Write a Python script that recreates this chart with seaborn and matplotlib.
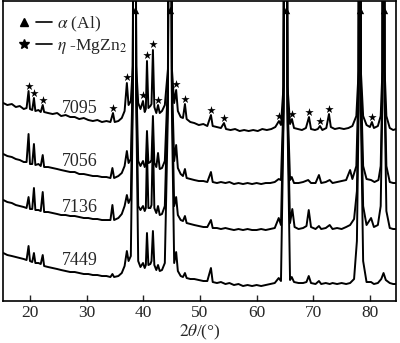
import matplotlib
matplotlib.use("Agg")
import numpy as np
import pandas as pd
import matplotlib.pyplot as plt
import seaborn as sns
from matplotlib.lines import Line2D
from matplotlib.legend_handler import HandlerTuple

# XRD patterns: (2theta, intensity in a.u., stacked)
pat_7095 = [
    (15.3, 198), (16.0, 196), (16.8, 197), (17.5, 194), (18.2, 195), (18.9, 192),
    (19.4, 193), (19.75, 210), (20.0, 192), (20.4, 191), (20.7, 203), (20.95, 190),
    (21.5, 191), (21.9, 189), (22.25, 196), (22.5, 189), (23.2, 188), (24.0, 187),
    (24.8, 188), (25.5, 185), (26.3, 186), (27.1, 184), (27.9, 184), (28.7, 182),
    (29.5, 183), (30.3, 181), (31.1, 180), (31.9, 181), (32.7, 179), (33.5, 180),
    (34.2, 179), (34.65, 188), (34.95, 179), (35.6, 180), (36.2, 183), (36.7, 190),
    (37.1, 218), (37.4, 196), (37.8, 200), (38.15, 235), (38.45, 900), (38.75, 235),
    (39.1, 198), (39.5, 192), (39.95, 200), (40.25, 189), (40.45, 192), (40.65, 240),
    (40.9, 193), (41.25, 195), (41.45, 197), (41.7, 251), (41.95, 194), (42.3, 188),
    (42.6, 196), (42.9, 188), (43.3, 190), (43.8, 196), (44.35, 232), (44.7, 900),
    (45.05, 232), (45.45, 198), (45.8, 211), (46.1, 190), (46.6, 184), (47.0, 183),
    (47.35, 197), (47.65, 182), (48.3, 179), (49.0, 178), (49.8, 176), (50.6, 177),
    (51.3, 175), (51.94, 186), (52.25, 175), (53.0, 174), (53.7, 173), (54.24, 178),
    (54.6, 172), (55.4, 171), (56.2, 172), (57.0, 170), (57.8, 171), (58.6, 170),
    (59.4, 171), (60.2, 170), (61.0, 172), (61.8, 171), (62.6, 172), (63.3, 174),
    (63.94, 180), (64.3, 176), (64.75, 215), (65.1, 900), (65.45, 215), (65.9, 177),
    (66.24, 182), (66.6, 173), (67.3, 172), (68.0, 171), (68.7, 173), (69.24, 184),
    (69.6, 172), (70.3, 171), (70.8, 172), (71.18, 175), (71.6, 171), (72.3, 173),
    (72.77, 187), (73.1, 174), (73.8, 172), (74.6, 173), (75.4, 172), (76.2, 173),
    (76.9, 175), (77.6, 185), (78.0, 230), (78.2, 900), (78.4, 230), (78.8, 185),
    (79.4, 176), (80.0, 174), (80.35, 179), (80.7, 173), (81.4, 175), (81.9, 185),
    (82.2, 230), (82.4, 900), (82.6, 230), (82.9, 185), (83.5, 173), (84.1, 171),
    (84.6, 172),
]
pat_7056 = [
    (15.3, 147), (16.0, 145), (16.8, 144), (17.5, 142), (18.2, 141), (18.9, 139),
    (19.4, 139), (19.75, 167), (20.0, 137), (20.4, 137), (20.7, 157), (20.95, 136),
    (21.5, 137), (21.9, 135), (22.25, 146), (22.5, 134), (23.2, 134), (24.0, 133),
    (24.8, 132), (25.5, 131), (26.3, 130), (27.1, 129), (27.9, 129), (28.7, 127),
    (29.5, 127), (30.3, 126), (31.1, 125), (31.9, 125), (32.7, 124), (33.5, 124),
    (34.2, 123), (34.55, 133), (34.85, 123), (35.6, 125), (36.2, 128), (36.7, 135),
    (37.1, 150), (37.4, 138), (37.8, 142), (38.15, 225), (38.45, 900), (38.75, 225),
    (39.1, 140), (39.5, 135), (39.95, 140), (40.25, 134), (40.45, 137), (40.65, 170),
    (40.9, 138), (41.25, 139), (41.45, 141), (41.7, 185), (41.95, 138), (42.3, 134),
    (42.6, 148), (42.9, 132), (43.3, 133), (43.8, 140), (44.35, 220), (44.7, 900),
    (45.05, 220), (45.45, 140), (45.8, 156), (46.1, 133), (46.6, 127), (47.0, 125),
    (47.35, 132), (47.65, 123), (48.3, 122), (49.0, 121), (49.8, 120), (50.6, 120),
    (51.3, 119), (51.94, 129), (52.25, 119), (53.0, 118), (53.7, 119), (54.5, 118),
    (55.2, 119), (56.0, 117), (56.8, 118), (57.6, 117), (58.4, 118), (59.2, 117),
    (60.0, 118), (60.8, 117), (61.6, 118), (62.4, 118), (63.2, 119), (63.9, 122),
    (64.3, 121), (64.75, 200), (65.1, 900), (65.45, 200), (65.9, 121), (66.2, 124),
    (66.6, 118), (67.4, 118), (68.2, 119), (69.1, 121), (69.6, 118), (70.4, 118),
    (71.0, 126), (71.4, 118), (72.2, 119), (72.9, 121), (73.4, 118), (74.2, 119),
    (75.0, 120), (75.8, 121), (76.5, 131), (76.9, 122), (77.6, 135), (78.0, 220),
    (78.2, 900), (78.4, 220), (78.8, 135), (79.4, 122), (80.2, 121), (80.8, 119),
    (81.5, 121), (81.9, 135), (82.2, 220), (82.4, 900), (82.6, 220), (82.9, 135),
    (83.5, 119), (84.1, 118), (84.6, 118),
]
pat_7136 = [
    (15.3, 101), (16.0, 99), (16.8, 98), (17.5, 96), (18.2, 95), (18.9, 94),
    (19.4, 93), (19.75, 104), (20.0, 92), (20.4, 92), (20.7, 113), (20.95, 91),
    (21.5, 91), (21.9, 90), (22.25, 109), (22.5, 89), (23.2, 89), (24.0, 88),
    (24.8, 87), (25.5, 86), (26.3, 86), (27.1, 85), (27.9, 85), (28.7, 84),
    (29.5, 83), (30.3, 83), (31.1, 82), (31.9, 82), (32.7, 81), (33.5, 81),
    (34.2, 81), (34.55, 96), (34.85, 81), (35.6, 83), (36.2, 87), (36.7, 95),
    (37.1, 106), (37.4, 98), (37.8, 103), (38.15, 215), (38.45, 900), (38.75, 215),
    (39.1, 95), (39.5, 91), (39.95, 95), (40.25, 90), (40.45, 93), (40.65, 150),
    (40.9, 93), (41.25, 93), (41.45, 96), (41.7, 165), (41.95, 93), (42.3, 88),
    (42.6, 95), (42.9, 86), (43.3, 87), (43.8, 95), (44.35, 210), (44.7, 900),
    (45.05, 210), (45.45, 95), (45.8, 104), (46.1, 86), (46.6, 81), (47.0, 80),
    (47.35, 85), (47.65, 78), (48.3, 77), (49.0, 76), (49.8, 75), (50.6, 74),
    (51.3, 74), (51.94, 81), (52.25, 73), (53.0, 73), (53.7, 72), (54.5, 73),
    (55.2, 72), (56.0, 71), (56.8, 72), (57.6, 71), (58.4, 72), (59.2, 71),
    (60.0, 71), (60.8, 72), (61.6, 71), (62.4, 72), (63.2, 73), (63.9, 83),
    (64.3, 76), (64.75, 190), (65.1, 900), (65.45, 190), (65.9, 78), (66.3, 92),
    (66.7, 74), (67.4, 72), (68.2, 73), (68.8, 75), (69.2, 91), (69.6, 74),
    (70.4, 72), (71.0, 75), (71.4, 72), (72.2, 73), (72.9, 76), (73.4, 72),
    (74.2, 73), (75.0, 72), (75.8, 74), (76.5, 76), (77.2, 82), (77.7, 110),
    (78.0, 210), (78.2, 900), (78.4, 210), (78.8, 95), (79.4, 76), (80.2, 83),
    (80.7, 74), (81.4, 76), (81.9, 95), (82.2, 200), (82.4, 900), (82.6, 200),
    (82.9, 90), (83.5, 73), (84.1, 72), (84.6, 72),
]
pat_7449 = [
    (15.3, 48), (16.0, 46), (16.8, 45), (17.5, 44), (18.2, 43), (18.9, 42),
    (19.4, 41), (19.75, 55), (20.0, 40), (20.4, 39), (20.7, 48), (20.95, 38),
    (21.5, 38), (21.9, 37), (22.25, 46), (22.5, 35), (23.2, 34), (24.0, 33),
    (24.8, 32), (25.5, 31), (26.3, 30), (27.1, 29), (27.9, 29), (28.7, 28),
    (29.5, 27), (30.3, 27), (31.1, 26), (31.9, 26), (32.7, 25), (33.5, 25),
    (34.2, 24), (34.55, 27), (34.85, 24), (35.6, 25), (36.2, 28), (36.7, 35),
    (37.1, 50), (37.4, 40), (37.8, 45), (38.15, 200), (38.45, 900), (38.75, 200),
    (39.1, 40), (39.5, 34), (39.95, 38), (40.25, 33), (40.45, 36), (40.65, 68),
    (40.9, 36), (41.25, 37), (41.45, 40), (41.7, 70), (41.95, 36), (42.3, 31),
    (42.6, 36), (42.9, 30), (43.3, 31), (43.8, 38), (44.35, 190), (44.7, 900),
    (45.05, 190), (45.45, 38), (45.8, 49), (46.1, 30), (46.6, 25), (47.0, 24),
    (47.35, 28), (47.65, 23), (48.3, 22), (49.0, 22), (49.8, 21), (50.6, 20),
    (51.3, 20), (51.94, 33), (52.25, 19), (53.0, 18), (53.7, 19), (54.5, 17),
    (55.2, 18), (56.0, 16), (56.8, 17), (57.6, 15), (58.4, 16), (59.2, 15),
    (60.0, 16), (60.8, 15), (61.6, 16), (62.4, 17), (63.2, 18), (63.9, 23),
    (64.3, 20), (64.75, 180), (65.1, 900), (65.45, 180), (65.9, 21), (66.2, 24),
    (66.6, 19), (67.4, 18), (68.2, 18), (68.8, 19), (69.2, 25), (69.6, 18),
    (70.4, 17), (71.0, 20), (71.4, 17), (72.2, 18), (72.9, 17), (73.4, 18),
    (74.2, 17), (75.0, 18), (75.8, 17), (76.5, 18), (77.2, 22), (77.7, 60),
    (78.0, 190), (78.2, 900), (78.4, 190), (78.8, 40), (79.4, 19), (80.2, 19),
    (80.7, 17), (81.4, 18), (82.0, 22), (82.4, 28), (82.8, 21), (83.5, 18),
    (84.1, 17), (84.6, 17),
]
samples = ["7095", "7056", "7136", "7449"]
patterns = [pat_7095, pat_7056, pat_7136, pat_7449]
label_pos = [(28.8, 193), (28.8, 140), (28.8, 94), (28.8, 41)]

# phase markers
al_2theta = [38.45, 44.7, 65.1, 78.2, 82.4]
al_height = [291, 291, 291, 291, 291]
mgzn_2theta = [19.75, 20.7, 22.25, 34.65, 37.1, 39.95, 40.65, 41.7, 42.6, 45.8,
               47.35, 51.94, 54.24, 63.94, 66.24, 69.24, 71.18, 72.77, 80.35]
mgzn_height = [215, 208, 201, 193, 224, 206, 246, 257, 201, 217,
               202, 191, 183, 185, 187, 189, 180, 192, 184]

frames = []
for name, pat in zip(samples, patterns):
    d = pd.DataFrame(pat, columns=["two_theta", "intensity"])
    d["sample"] = name
    frames.append(d)
df = pd.concat(frames, ignore_index=True)

sns.set_theme(style="ticks")
plt.rcParams["font.family"] = ["Liberation Serif", "DejaVu Serif"]
plt.rcParams["mathtext.fontset"] = "stix"

fig = plt.figure(figsize=(4.0, 3.43), dpi=100)
ax = fig.add_axes([0.0075, 0.1224, 0.9825, 0.8746])

sns.lineplot(data=df, x="two_theta", y="intensity", hue="sample",
             palette=["black"] * 4, estimator=None, sort=False,
             lw=1.4, legend=False, ax=ax)
sns.scatterplot(x=al_2theta, y=al_height, marker="^", color="black",
                s=28, linewidth=0, ax=ax, zorder=5)
sns.scatterplot(x=mgzn_2theta, y=mgzn_height, marker="*", color="black",
                s=40, linewidth=0, ax=ax, zorder=5)

for name, (px, py) in zip(samples, label_pos):
    ax.text(px, py, name, ha="center", va="center", fontsize=13)

ax.set_xlim(15.24, 84.6)
ax.set_ylim(0, 300)
ax.set_xticks([20, 30, 40, 50, 60, 70, 80])
ax.set_yticks([])
ax.set_ylabel("")
ax.set_xlabel(r"$2\theta$/(°)", fontsize=12.5, labelpad=1)
ax.tick_params(axis="x", direction="in", length=4.5, width=1.0,
               labelsize=12.5, pad=3, top=False)
for sp in ax.spines.values():
    sp.set_visible(True)
    sp.set_linewidth(1.2)
    sp.set_color("black")

tri = Line2D([], [], marker="^", color="black", ls="none", markersize=5.5)
star = Line2D([], [], marker="*", color="black", ls="none", markersize=7)
seg = Line2D([], [], color="black", lw=1.2)
ax.legend([(tri, seg), (star, seg)], [r"$\alpha$ (Al)", r"$\eta$ -MgZn$_2$"],
          handler_map={tuple: HandlerTuple(ndivide=None, pad=0.25)},
          loc="upper left", frameon=False, fontsize=12.5, handlelength=2.0,
          handletextpad=0.3, labelspacing=0.15, borderaxespad=0.4,
          bbox_to_anchor=(0.0, 1.0))

fig.savefig("out.png", dpi=100)
